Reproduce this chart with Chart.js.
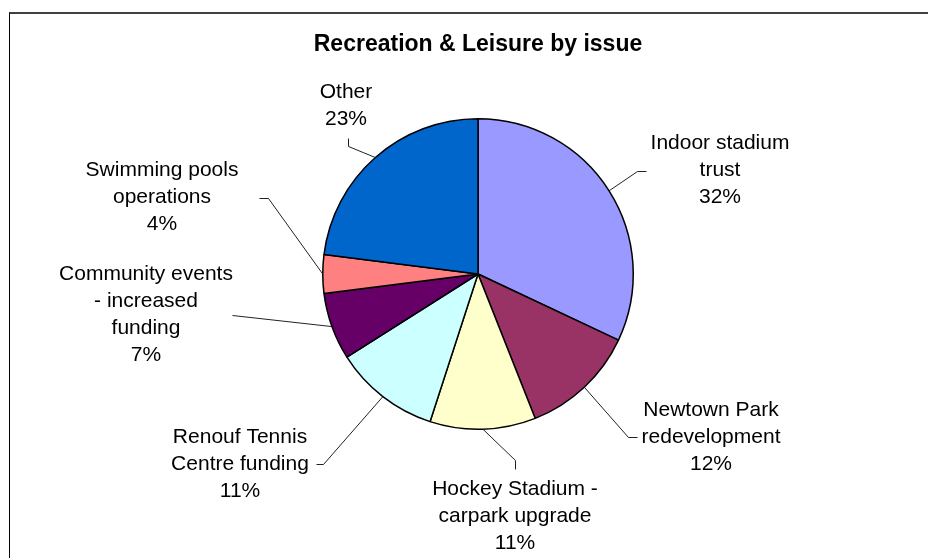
<!DOCTYPE html>
<html>
<head>
<meta charset="utf-8">
<script src="https://cdn.jsdelivr.net/npm/chart.js@4/dist/chart.umd.min.js"></script>
<style>
  body { margin: 0; background: #fff; overflow: hidden; }
  #wrap { position: relative; width: 928px; height: 558px; overflow: hidden; }
  #frame { position: absolute; left: 9px; top: 12px; width: 960px; height: 600px; border-top: 2px solid #404040; border-left: 1px solid #000; }
  canvas { position: absolute; left: 0; top: 0; }
</style>
</head>
<body>
<div id="wrap">
  <div id="frame"></div>
  <canvas id="issueChart" width="928" height="558"></canvas>
</div>
<script>
const chartTitle = 'Recreation & Leisure by issue';
const issueLabels = [
  ['Indoor stadium', 'trust'],
  ['Newtown Park', 'redevelopment'],
  ['Hockey Stadium -', 'carpark upgrade'],
  ['Renouf Tennis', 'Centre funding'],
  ['Community events', '- increased', 'funding'],
  ['Swimming pools', 'operations'],
  ['Other']
];
const issueShares = [32, 12, 11, 11, 7, 4, 23];
const sliceColors = ['#9999ff', '#993366', '#ffffcc', '#ccffff', '#660066', '#ff8080', '#0066cc'];

// where each label block sits and how its leader line bends (after leaving the slice edge)
const labelLayout = [
  { x: 720, y: 143, path: [[637, 171], [646, 171]] },
  { x: 711, y: 410, path: [[628, 437], [637, 437]] },
  { x: 515, y: 489, path: [[515, 460], [515, 469]] },
  { x: 240, y: 437, path: [[323, 464], [316, 464]] },
  { x: 146, y: 274, path: [[232, 315]] },
  { x: 162, y: 170, path: [[268, 198], [259, 198]] },
  { x: 346, y: 92,  path: [[348, 146], [348, 138]] }
];
const FONT = '"Liberation Sans", Arial, sans-serif';
const LINE_H = 27;

const labelPlugin = {
  id: 'pieLabels',
  afterDraw(chart) {
    const ctx = chart.ctx;
    const arcs = chart.getDatasetMeta(0).data;
    ctx.save();
    ctx.fillStyle = '#000';
    ctx.font = 'bold 23px ' + FONT;
    ctx.textAlign = 'center';
    ctx.textBaseline = 'middle';
    ctx.fillText(chartTitle, 478, 45);

    ctx.strokeStyle = '#222';
    ctx.lineWidth = 1;
    arcs.forEach((arc, i) => {
      const mid = (arc.startAngle + arc.endAngle) / 2;
      const sx = arc.x + Math.cos(mid) * arc.outerRadius;
      const sy = arc.y + Math.sin(mid) * arc.outerRadius;
      ctx.beginPath();
      ctx.moveTo(sx, sy);
      labelLayout[i].path.forEach(p => ctx.lineTo(p[0] + 0.5, p[1] + 0.5));
      ctx.stroke();
    });

    ctx.font = '21px ' + FONT;
    issueLabels.forEach((lines, i) => {
      const all = lines.concat([issueShares[i] + '%']);
      const lay = labelLayout[i];
      all.forEach((t, k) => ctx.fillText(t, lay.x, lay.y + k * LINE_H));
    });
    ctx.restore();
  }
};

new Chart(document.getElementById('issueChart'), {
  type: 'pie',
  data: {
    labels: issueLabels.map(l => l.join(' ')),
    datasets: [{
      data: issueShares,
      backgroundColor: sliceColors,
      borderColor: '#000',
      borderWidth: 1.5
    }]
  },
  options: {
    responsive: false,
    animation: false,
    devicePixelRatio: 1,
    layout: { padding: { left: 322, right: 294, top: 118, bottom: 128 } },
    plugins: { legend: { display: false }, tooltip: { enabled: false }, title: { display: false } }
  },
  plugins: [labelPlugin]
});
</script>
</body>
</html>
